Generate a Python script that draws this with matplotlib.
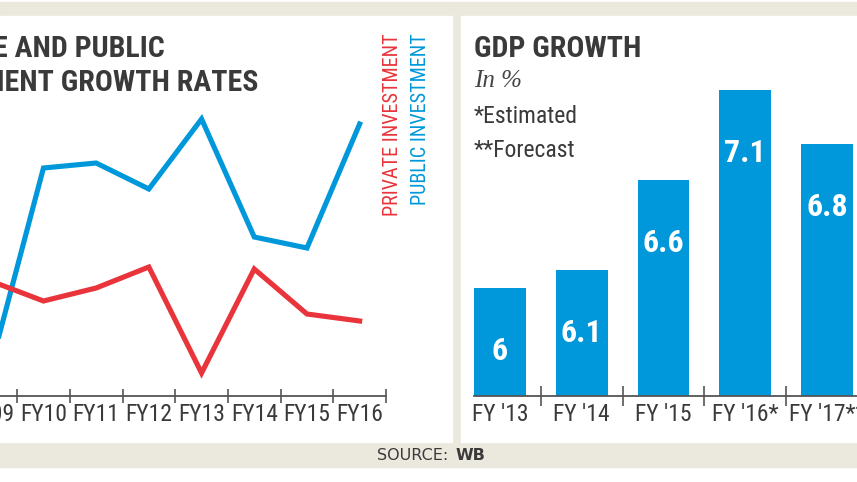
import os
import matplotlib
matplotlib.use("Agg")
import matplotlib.pyplot as plt
from matplotlib import font_manager as fm
from matplotlib.patches import Rectangle

# Investment growth rates (no axis printed in the source, values read off the line heights)
years = ["FY09", "FY10", "FY11", "FY12", "FY13", "FY14", "FY15", "FY16"]
private_inv = [11.5, 9.5, 10.8, 12.9, 2.3, 12.7, 8.2, 7.5]
public_inv = [2.9, 22.8, 23.3, 20.7, 27.7, 15.9, 14.8, 27.2]

# GDP growth in %
gdp_years = ["FY '13", "FY '14", "FY '15", "FY '16*", "FY '17**"]
gdp_growth = [6.0, 6.1, 6.6, 7.1, 6.8]

RED = "#e8343a"
BLUE = "#0098da"
DARK = "#3a3a3a"
AXIS = "#555555"
GREY_BG = "#ebe8de"

W, H = 857, 482


def fx(x):
    return x / W


def fy(y):
    return 1 - y / H


def find_font(prefixes):
    # look for a narrow / condensed face among the installed fonts
    files = {}
    for f in fm.fontManager.ttflist:
        files[os.path.basename(f.fname).lower()] = f.fname
    for p in prefixes:
        for base in sorted(files):
            if base.startswith(p):
                return files[base]
    return None


cond_regular = find_font([
    "notosans-condensed.", "notosans-condensedregular", "opensans-condensedregular",
    "opensans_condensed-regular", "robotocondensed-regular", "liberationsansnarrow-regular",
    "dejavusanscondensed.",
])
cond_bold = find_font([
    "notosans-condensedbold.", "opensans-condensedbold", "opensans_condensed-bold.",
    "robotocondensed-bold.", "liberationsansnarrow-bold.", "dejavusanscondensed-bold.",
])


def cond(size, bold=False):
    path = cond_bold if bold else cond_regular
    if path:
        return fm.FontProperties(fname=path, size=size)
    return fm.FontProperties(family="DejaVu Sans", size=size * 0.8,
                             weight="bold" if bold else "normal")


fig = plt.figure(figsize=(W / 100, H / 100), dpi=100)
fig.patch.set_facecolor("white")

# grey band and the two white panels
fig.add_artist(Rectangle((0, fy(467)), 1, fy(2) - fy(467), transform=fig.transFigure,
                         color=GREY_BG, zorder=-3))
fig.add_artist(Rectangle((0, fy(442)), fx(452), fy(16) - fy(442), transform=fig.transFigure,
                         color="white", zorder=-2))
fig.add_artist(Rectangle((fx(461), fy(442)), 1 - fx(461), fy(16) - fy(442),
                         transform=fig.transFigure, color="white", zorder=-2))

# ---- left: investment lines ----
ax1 = fig.add_axes([fx(-35.6), fy(396), fx(421.6), 300 / H])
ax1.set_facecolor("none")
ax1.set_zorder(1)
x = list(range(len(years)))
ax1.plot(x, public_inv, color=BLUE, lw=3.7, solid_joinstyle="miter")
ax1.plot(x, private_inv, color=RED, lw=3.7, solid_joinstyle="miter")
ax1.set_xlim(-0.5, len(years) - 0.5)
ax1.set_ylim(0, 30)
for s in ["top", "left", "right"]:
    ax1.spines[s].set_visible(False)
ax1.spines["bottom"].set_color(AXIS)
ax1.spines["bottom"].set_linewidth(1.3)
ax1.set_yticks([])
ax1.set_xticks(x)
ax1.set_xticklabels(years)
ax1.set_xticks([i - 0.5 for i in range(len(years) + 1)], minor=True)
ax1.tick_params(axis="x", which="major", length=0, pad=5, colors=DARK)
ax1.tick_params(axis="x", which="minor", direction="inout", length=10, width=1.2, color=AXIS)
for lab in ax1.get_xticklabels():
    lab.set_fontproperties(cond(17))

fig.text(fx(165), fy(57), "PRIVATE AND PUBLIC", ha="right", va="baseline",
         color=DARK, fontproperties=cond(21.5, bold=True))
fig.text(fx(258), fy(91), "INVESTMENT GROWTH RATES", ha="right", va="baseline",
         color=DARK, fontproperties=cond(21.5, bold=True))
fig.text(fx(393), fy(33), "PRIVATE INVESTMENT", rotation=90, ha="center", va="top",
         color=RED, fontproperties=cond(14.5))
fig.text(fx(420), fy(33), "PUBLIC INVESTMENT", rotation=90, ha="center", va="top",
         color=BLUE, fontproperties=cond(14.5))

# ---- right: GDP growth bars ----
ax2 = fig.add_axes([fx(474), fy(396), 1 - fx(474), 324 / H])
ax2.set_facecolor("none")
ax2.set_zorder(1)
bx = list(range(len(gdp_years)))
ax2.bar(bx, gdp_growth, width=0.634, color=BLUE)
ax2.set_xlim(-0.317, 4.367)
ax2.set_ylim(5.4, 7.2)
for s in ["top", "left", "right"]:
    ax2.spines[s].set_visible(False)
ax2.spines["bottom"].set_color(AXIS)
ax2.spines["bottom"].set_linewidth(1.3)
ax2.set_yticks([])
ax2.set_xticks(bx)
ax2.set_xticklabels(gdp_years)
ax2.set_xticks([i + 0.5 for i in range(len(gdp_years) - 1)], minor=True)
ax2.tick_params(axis="x", which="major", length=0, pad=5, colors=DARK)
ax2.tick_params(axis="x", which="minor", direction="inout", length=14, width=1.2, color=AXIS)
for lab in ax2.get_xticklabels():
    lab.set_fontproperties(cond(17))
for i, v in zip(bx, gdp_growth):
    ax2.text(i, v - 0.35, f"{v:g}", ha="center", va="center", color="white",
             fontproperties=cond(23, bold=True))

fig.text(fx(474), fy(57), "GDP GROWTH", ha="left", va="baseline",
         color=DARK, fontproperties=cond(21.5, bold=True))
fig.text(fx(474), fy(87), "In %", ha="left", va="baseline", color="#444444",
         family="Liberation Serif", style="italic", fontsize=18)
fig.text(fx(474), fy(123), "*Estimated", ha="left", va="baseline",
         color=DARK, fontproperties=cond(17))
fig.text(fx(474), fy(157), "**Forecast", ha="left", va="baseline",
         color=DARK, fontproperties=cond(17))

# source line
fig.text(fx(448), fy(460), "SOURCE:", ha="right", va="baseline",
         family="DejaVu Sans", fontsize=11.5, color=DARK)
fig.text(fx(456), fy(460), "WB", ha="left", va="baseline",
         family="DejaVu Sans", fontweight="bold", fontsize=11.5, color=DARK)

fig.savefig("out.png", dpi=100)
